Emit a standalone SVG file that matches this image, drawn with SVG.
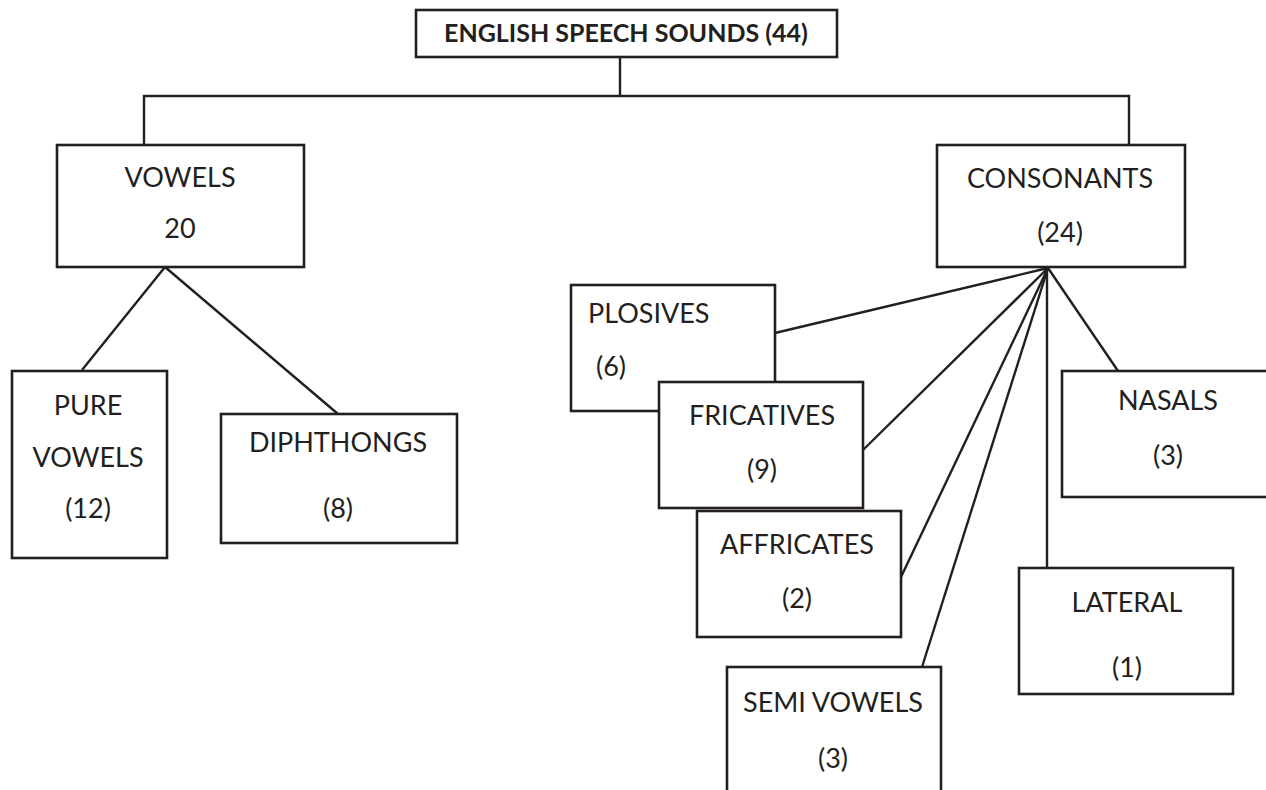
<svg xmlns="http://www.w3.org/2000/svg" width="1266" height="790" viewBox="0 0 1266 790">
  <style>
    .box { fill: #ffffff; stroke: #231f20; stroke-width: 2.6; }
    .link { fill: none; stroke: #231f20; stroke-width: 2.4; stroke-linecap: butt; }
    text { font-family: Lato, "Open Sans", sans-serif; font-size: 27px; fill: #231f20; text-anchor: middle; }
    .title { font-weight: bold; font-size: 25px; }
    .left { text-anchor: start; }
  </style>
  <rect width="1266" height="790" fill="#ffffff"/>

  <!-- connectors -->
  <g id="connectors">
    <polyline class="link" points="620,57 620,96"/>
    <polyline class="link" points="144,145 144,96 1129,96 1129,145"/>
    <line class="link" x1="165" y1="267" x2="82" y2="370"/>
    <line class="link" x1="165" y1="267" x2="338" y2="414"/>
    <line class="link" x1="1048" y1="268" x2="775" y2="333"/>
    <line class="link" x1="1048" y1="268" x2="863" y2="450"/>
    <line class="link" x1="1048" y1="268" x2="901" y2="577"/>
    <line class="link" x1="1048" y1="268" x2="922" y2="667"/>
    <line class="link" x1="1047" y1="268" x2="1047" y2="568"/>
    <line class="link" x1="1048" y1="268" x2="1118" y2="371"/>
  </g>

  <g id="root">
    <rect class="box" x="416" y="10" width="421" height="47"/>
    <text class="title" x="626" y="42">ENGLISH SPEECH SOUNDS (44)</text>
  </g>

  <g id="vowels">
    <rect class="box" x="57" y="145" width="247" height="122"/>
    <text x="180" y="187">VOWELS</text>
    <text x="180" y="238">20</text>
  </g>

  <g id="pure-vowels">
    <rect class="box" x="12" y="371" width="155" height="187"/>
    <text x="88" y="415">PURE</text>
    <text x="88" y="467">VOWELS</text>
    <text x="88" y="518">(12)</text>
  </g>

  <g id="diphthongs">
    <rect class="box" x="221" y="414" width="236" height="129"/>
    <text x="338" y="452">DIPHTHONGS</text>
    <text x="338" y="518">(8)</text>
  </g>

  <g id="consonants">
    <rect class="box" x="937" y="145" width="248" height="122"/>
    <text x="1060" y="188">CONSONANTS</text>
    <text x="1060" y="242">(24)</text>
  </g>

  <g id="plosives">
    <rect class="box" x="571" y="285" width="204" height="126"/>
    <text class="left" x="588" y="323">PLOSIVES</text>
    <text class="left" x="596" y="376">(6)</text>
  </g>

  <g id="fricatives">
    <rect class="box" x="659" y="382" width="204" height="126"/>
    <text x="762" y="425">FRICATIVES</text>
    <text x="762" y="479">(9)</text>
  </g>

  <g id="affricates">
    <rect class="box" x="697" y="511" width="204" height="126"/>
    <text x="797" y="554">AFFRICATES</text>
    <text x="797" y="608">(2)</text>
  </g>

  <g id="semi-vowels">
    <rect class="box" x="727" y="667" width="214" height="140"/>
    <text x="833" y="712">SEMI VOWELS</text>
    <text x="833" y="768">(3)</text>
  </g>

  <g id="nasals">
    <rect class="box" x="1062" y="371" width="220" height="126"/>
    <text x="1168" y="410">NASALS</text>
    <text x="1168" y="465">(3)</text>
  </g>

  <g id="lateral">
    <rect class="box" x="1019" y="568" width="214" height="126"/>
    <text x="1127" y="612">LATERAL</text>
    <text x="1127" y="677">(1)</text>
  </g>
</svg>
